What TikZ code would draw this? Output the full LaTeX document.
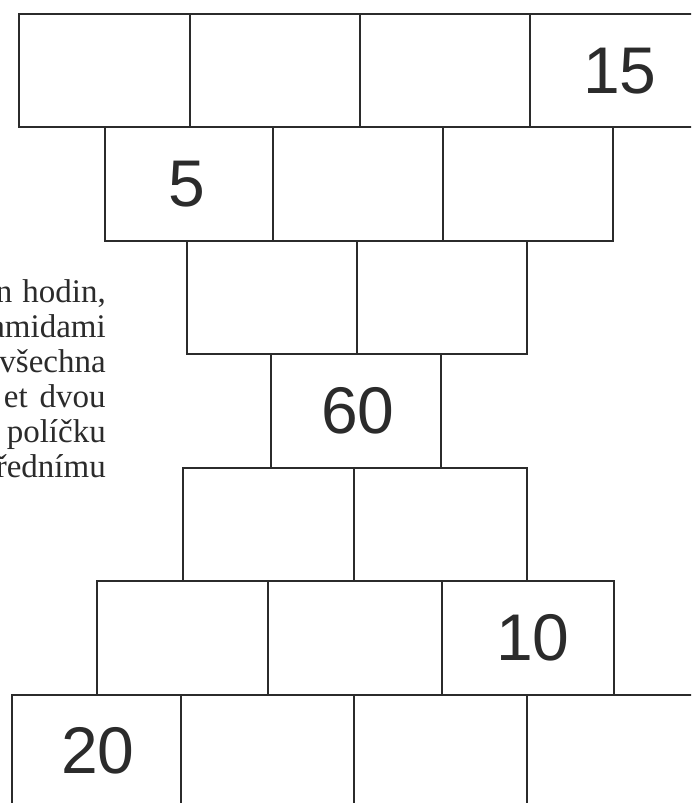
\documentclass[tikz,border=0pt]{standalone}
\usepackage{fontspec}
\setmainfont{Liberation Serif}
\setsansfont{Liberation Sans}
\definecolor{ink}{HTML}{2B2B2B}
\begin{document}
\begin{tikzpicture}[x=1pt,y=-1pt,line width=2.5pt,color=ink,
    num/.style={font=\sffamily\fontsize{66}{66}\selectfont,inner sep=0pt},
    txt/.style={font=\fontsize{33}{36}\selectfont,anchor=base east,inner sep=0pt}]
            \useasboundingbox (0,0) rectangle (691,803);
            \clip (0,0) rectangle (691,803);
            % row 1
            \draw (19,14) rectangle (190,127);
            \draw (190,14) rectangle (360,127);
            \draw (360,14) rectangle (530,127);
            \draw (530,14) rectangle (700,127);
            % row 2
            \draw (105,127) rectangle (273,241);
            \draw (273,127) rectangle (443,241);
            \draw (443,127) rectangle (613,241);
            % row 3
            \draw (187,241) rectangle (357,354);
            \draw (357,241) rectangle (527,354);
            % row 4
            \draw (271,354) rectangle (441,468);
            % row 5
            \draw (183,468) rectangle (354,581);
            \draw (354,468) rectangle (527,581);
            % row 6
            \draw (97,581) rectangle (268,695);
            \draw (268,581) rectangle (442,695);
            \draw (442,581) rectangle (614,695);
            % row 7
            \draw (12,695) rectangle (181,808);
            \draw (181,695) rectangle (354,808);
            \draw (354,695) rectangle (527,808);
            \draw (527,695) rectangle (697,808);
            % given numbers
            \node[num] (n15) at (620,71) {15};
            \node[num] (n5) at (187,184) {5};
            \node[num] (n60) at (358,411) {60};
            \node[num] (n10) at (533,638) {10};
            \node[num] (n20) at (98,751) {20};
            % text cut at the left edge
            \node[txt] (t1) at (107,302) {n\hspace{10pt}hodin,};
            \node[txt] (t2) at (107,337) {amidami};
            \node[txt] (t3) at (107,372) {všechna};
            \node[txt] (t4) at (107,407) {et\hspace{12pt}dvou};
            \node[txt] (t5) at (107,442) {políčku};
            \node[txt] (t6) at (107,477) {řednímu};
        \end{tikzpicture}
\end{document}
